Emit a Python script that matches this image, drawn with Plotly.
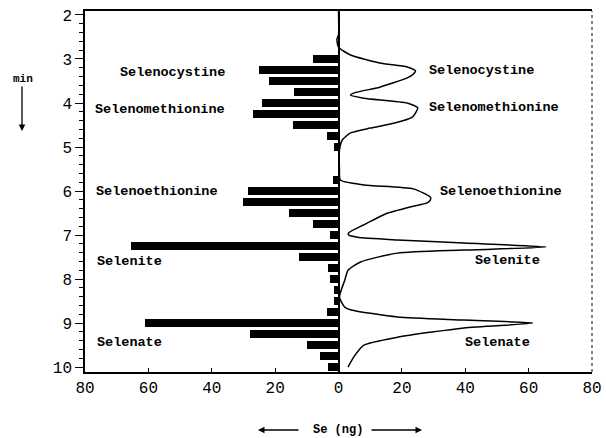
import plotly.graph_objects as go

# Fraction collection (bars, left side): time (min) and Se (ng)
bar_times = [3.00, 3.25, 3.50, 3.75, 4.00, 4.25, 4.50, 4.75, 5.00, 5.25, 5.50, 5.75,
             6.00, 6.25, 6.50, 6.75, 7.00, 7.25, 7.50, 7.75, 8.00, 8.25, 8.50, 8.75,
             9.00, 9.25, 9.50, 9.75, 10.00]
bar_se = [8, 25, 22, 14, 24, 27, 14.5, 3.5, 1.3, 0, 0, 1.6,
          28.5, 30, 15.5, 8, 2.8, 65.5, 12.4, 3.2, 2.8, 1.3, 1.3, 3.5,
          61, 28, 10, 5.7, 3.2]

# Continuous detector trace (right side)
trace_t = [1.91, 2.45, 2.55, 2.73, 2.91, 3.09, 3.18, 3.27, 3.35, 3.43, 3.64, 3.77, 3.82,
           3.89, 4.0, 4.11, 4.2, 4.32, 4.45, 4.57, 4.68, 4.84, 5.07, 5.5, 5.75, 5.86,
           5.95, 6.14, 6.2, 6.27, 6.32, 6.5, 6.77, 6.95, 7.0, 7.05, 7.11, 7.18, 7.27,
           7.34, 7.41, 7.61, 7.8, 8.02, 8.41, 8.64, 8.7, 8.86, 8.93, 9.0, 9.11, 9.32,
           9.5, 9.75, 10.0]
trace_se = [0, 0, -0.5, 0, 3.8, 13, 21.7, 24.3, 23.5, 21.7, 13, 5, 3.8,
            8, 21.7, 25, 24.5, 23.3, 18, 10, 3.8, 1.2, 0.3, 0.3, 0.6, 8,
            23.6, 29, 29, 28, 25, 15.6, 7.9, 3.2, 3.2, 6, 18.6, 39.6, 65.5,
            39.6, 18.6, 7, 3, 2, 0.3, 2, 4, 18.6, 39.6, 61.3, 39.6, 18.6,
            8, 5, 3]

left_labels = ["Selenocystine", "Selenomethionine", "Selenoethionine", "Selenite", "Selenate"]
left_lab_x = [-69.7, -77.6, -77.3, -77, -77]
left_lab_t = [3.3, 4.14, 6.02, 7.59, 9.45]
right_labels = ["Selenocystine", "Selenomethionine", "Selenoethionine", "Selenite", "Selenate"]
right_lab_x = [28, 28, 31.5, 42.3, 39.4]
right_lab_t = [3.27, 4.11, 6.0, 7.57, 9.45]

x_tickvals = [-80, -60, -40, -20, 0, 20, 40, 60, 80]
x_ticktext = ["80", "60", "40", "20", "0", "20", "40", "60", "80"]
y_tickvals = [2, 3, 4, 5, 6, 7, 8, 9, 10]

MONO = "Liberation Mono"

PL, PR, PT, PB = 85, 592, 11, 372   # plot area in page pixels

fig = go.Figure()
fig.add_trace(go.Bar(
    y=bar_times, x=[-v for v in bar_se], orientation="h", width=0.19,
    marker=dict(color="black", line=dict(width=0)), showlegend=False))
fig.add_trace(go.Scatter(
    x=trace_se, y=trace_t, mode="lines",
    line=dict(color="black", width=1.5, shape="spline", smoothing=0.6),
    showlegend=False))

annotations = []
for txt, xx, tt in zip(left_labels, left_lab_x, left_lab_t):
    annotations.append(dict(x=xx, y=tt, xref="x", yref="y", text="<b>" + txt + "</b>",
                            showarrow=False, xanchor="left", yanchor="middle",
                            font=dict(family=MONO, size=13.5, color="black")))
for txt, xx, tt in zip(right_labels, right_lab_x, right_lab_t):
    annotations.append(dict(x=xx, y=tt, xref="x", yref="y", text="<b>" + txt + "</b>",
                            showarrow=False, xanchor="left", yanchor="middle",
                            font=dict(family=MONO, size=13.5, color="black")))

fig.update_layout(
    template="none",
    width=606, height=438,
    margin=dict(l=PL, r=606 - PR, t=PT, b=438 - PB, autoexpand=False),
    paper_bgcolor="white", plot_bgcolor="white",
    bargap=0,
    xaxis=dict(range=[-80, 80], tickvals=x_tickvals, ticktext=x_ticktext,
               automargin=False, ticklabeloverflow="allow",
               showgrid=False, zeroline=True, zerolinecolor="black", zerolinewidth=1.5,
               showline=True, linecolor="black", linewidth=1.5, mirror=True,
               ticks="inside", ticklen=4, tickcolor="black",
               tickfont=dict(family=MONO, size=16, color="black")),
    yaxis=dict(range=[10.11, 1.91], tickvals=y_tickvals,
               automargin=False, ticklabeloverflow="allow",
               showgrid=False, zeroline=False,
               showline=True, linecolor="black", linewidth=1.5,
               ticks="outside", ticklen=8, tickcolor="black", tickwidth=1.2,
               minor=dict(dtick=0.2, ticks="outside", ticklen=4, tickcolor="black",
                          showgrid=False),
               tickfont=dict(family=MONO, size=16, color="black")),
    annotations=annotations,
    font=dict(family=MONO, color="black"),
)

# Right border (dashed, like the original)
fig.add_shape(type="line", xref="paper", yref="paper", x0=1, x1=1, y0=0, y1=1,
              line=dict(color="black", width=1, dash="dot"))

pw = PR - PL
ph = PB - PT
def px(xp):
    return (xp - PL) / pw
def py(yp):
    return (PB - yp) / ph

# "min" with down arrow
fig.add_annotation(x=px(23), y=py(79), xref="paper", yref="paper", text="<b>min</b>",
                   xanchor="center", yanchor="middle",
                   showarrow=False, font=dict(family=MONO, size=11, color="black"))
fig.add_annotation(x=px(22), y=py(131), xref="paper", yref="paper", text="",
                   showarrow=True, ax=0, ay=-46, arrowhead=2, arrowsize=1, arrowwidth=1.3,
                   arrowcolor="black")
# Bottom axis label with arrows
fig.add_annotation(x=px(338), y=py(430), xref="paper", yref="paper", text="<b>Se (ng)</b>",
                   xanchor="center", yanchor="middle",
                   showarrow=False, font=dict(family=MONO, size=12, color="black"))
fig.add_annotation(x=px(258), y=py(430), xref="paper", yref="paper", text="",
                   showarrow=True, ax=42, ay=0, arrowhead=2, arrowsize=1, arrowwidth=1.3,
                   arrowcolor="black")
fig.add_annotation(x=px(422), y=py(430), xref="paper", yref="paper", text="",
                   showarrow=True, ax=-52, ay=0, arrowhead=2, arrowsize=1, arrowwidth=1.3,
                   arrowcolor="black")

fig.write_html("out.html", config={"displayModeBar": False},
               post_script="document.body.style.margin='0';document.body.style.overflow='hidden';")
